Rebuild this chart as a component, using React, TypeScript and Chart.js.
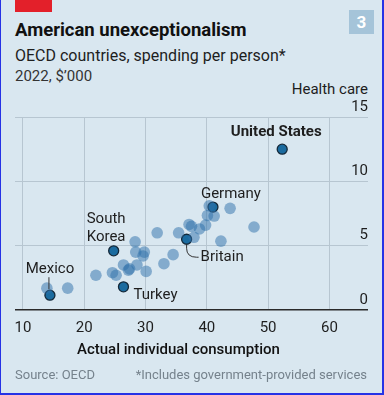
import React, { useEffect, useRef } from "react";
import { Chart, registerables } from "chart.js";

Chart.register(...registerables);

// ---- Data ----
const otherX = [13.9, 17.3, 21.9, 24.6, 25.2, 26.4, 27.2, 27.4, 28.6, 30.1, 28.4, 29.8, 29.6, 28.3, 33.0, 34.5, 31.9, 35.4, 37.1, 37.5, 37.9, 38.8, 39.8, 40.1, 41.2, 40.4, 43.8, 42.3, 47.7];
const otherY = [1.7, 1.7, 2.7, 2.9, 2.7, 3.5, 3.1, 3.2, 3.5, 3.0, 4.5, 4.5, 4.2, 5.3, 3.6, 4.3, 6.0, 6.0, 6.65, 6.5, 5.65, 6.3, 6.6, 7.35, 7.3, 8.1, 7.9, 5.35, 6.45];

const highlightNames = ["United States", "Germany", "Britain", "South Korea", "Turkey", "Mexico"];
const highlightX = [52.3, 41.0, 36.7, 24.8, 26.4, 14.4];
const highlightY = [12.5, 8.0, 5.5, 4.6, 1.8, 1.15];

const xTicks = [10, 20, 30, 40, 50, 60];
const yTicks = [0, 5, 10, 15];

// ---- Label styling (offsets in px from the point) ----
const labelStyle: Record<string, { lines: string[]; dx: number; dy: number; align: CanvasTextAlign; bold?: boolean; leader?: string }> = {
  "United States": { lines: ["United States"], dx: -6, dy: -17, align: "center", bold: true },
  Germany: { lines: ["Germany"], dx: -12, dy: -13, align: "left" },
  Britain: { lines: ["Britain"], dx: 14, dy: 18, align: "left", leader: "curve" },
  "South Korea": { lines: ["South", "Korea"], dx: -27, dy: -32, align: "left" },
  Turkey: { lines: ["Turkey"], dx: 10, dy: 8, align: "left" },
  Mexico: { lines: ["Mexico"], dx: 0, dy: -26, align: "center", leader: "vertical" },
};

const FONT = "Roboto, 'Liberation Sans', sans-serif";
const BG = "#d9e7f0";

const labelPlugin = {
  id: "pointLabels",
  afterDatasetsDraw(chart: any) {
    const { ctx, scales } = chart;
    ctx.save();
    highlightNames.forEach((name, i) => {
      const st = labelStyle[name];
      const px = scales.x.getPixelForValue(highlightX[i]);
      const py = scales.y.getPixelForValue(highlightY[i]);
      ctx.strokeStyle = "#333";
      ctx.lineWidth = 1;
      if (st.leader === "vertical") {
        ctx.beginPath();
        ctx.moveTo(px - 1, py - 18);
        ctx.lineTo(px - 1, py - 6);
        ctx.stroke();
      } else if (st.leader === "curve") {
        ctx.beginPath();
        ctx.moveTo(px, py + 5);
        ctx.lineTo(px, py + 9);
        ctx.quadraticCurveTo(px, py + 18, px + 10, py + 18);
        ctx.lineTo(px + 12, py + 18);
        ctx.stroke();
      }
      ctx.fillStyle = "#1e1e1e";
      ctx.font = `${st.bold ? "bold " : ""}15px ${FONT}`;
      ctx.textAlign = st.align;
      ctx.textBaseline = "middle";
      st.lines.forEach((line, j) => {
        ctx.fillText(line, px + st.dx, py + st.dy + j * 18);
      });
    });
    ctx.restore();
  },
};

export default function App() {
  const ref = useRef<HTMLCanvasElement>(null);

  useEffect(() => {
    if (!ref.current) return;
    const chart = new Chart(ref.current, {
      type: "scatter",
      data: {
        datasets: [
          {
            data: otherX.map((x, i) => ({ x, y: otherY[i] })),
            backgroundColor: "rgba(45,112,170,0.5)",
            borderWidth: 0,
            pointRadius: 5.8,
          },
          {
            data: highlightX.map((x, i) => ({ x, y: highlightY[i] })),
            backgroundColor: "#1b6b9f",
            borderColor: "#14293a",
            borderWidth: 1.3,
            pointRadius: 5,
          },
        ],
      },
      options: {
        animation: false,
        responsive: false,
        events: [],
        layout: { padding: { top: 37, left: 15, right: 16, bottom: 4 } },
        plugins: { legend: { display: false }, tooltip: { enabled: false } },
        scales: {
          x: {
            type: "linear",
            min: 8.7,
            max: 66.3,
            afterBuildTicks: (s: any) => {
              s.ticks = xTicks.map((v) => ({ value: v }));
            },
            grid: { color: "#b7c6d1", lineWidth: 1, drawTicks: false },
            border: { display: false },
            ticks: { color: "#1e1e1e", font: { family: FONT, size: 15 }, padding: 9 },
          },
          y: {
            type: "linear",
            position: "right",
            min: 0,
            max: 15,
            afterBuildTicks: (s: any) => {
              s.ticks = yTicks.map((v) => ({ value: v }));
            },
            grid: {
              color: (c: any) => (c.tick && c.tick.value === 0 ? "#2a2a2a" : "#b7c6d1"),
              lineWidth: (c: any) => (c.tick && c.tick.value === 0 ? 1.6 : 1),
              drawTicks: false,
            },
            border: { display: false },
            ticks: {
              mirror: true,
              padding: 0,
              labelOffset: -10,
              color: "#1e1e1e",
              font: { family: FONT, size: 15 },
            },
          },
        },
      },
      plugins: [labelPlugin],
    });
    return () => chart.destroy();
  }, []);

  const abs = (s: React.CSSProperties): React.CSSProperties => ({ position: "absolute", whiteSpace: "nowrap", ...s });

  return (
    <div
      style={{
        position: "absolute",
        left: 0,
        top: 0,
        width: 384,
        height: 395,
        boxSizing: "border-box",
        background: BG,
        borderLeft: "1px solid #2633e6",
        borderRight: "2px solid #2633e6",
        borderBottom: "2px solid #2633e6",
        fontFamily: FONT,
        overflow: "hidden",
      }}
    >
      <div style={abs({ left: 14, top: 0, width: 37, height: 12, background: "#e3202a" })} />
      <div
        style={abs({
          left: 348,
          top: 10,
          width: 25,
          height: 24,
          background: "#a5c4d9",
          color: "#fff",
          fontWeight: 700,
          fontSize: 17,
          lineHeight: "24px",
          textAlign: "center",
        })}
      >
        3
      </div>
      <div style={abs({ left: 14, top: 21, fontSize: 18.5, lineHeight: "18px", fontWeight: 700, color: "#111" })}>
        American unexceptionalism
      </div>
      <div style={abs({ left: 14, top: 48, fontSize: 16, lineHeight: "16px", color: "#1e1e1e" })}>
        OECD countries, spending per person*
      </div>
      <div style={abs({ left: 14, top: 69, fontSize: 15, lineHeight: "15px", color: "#333" })}>2022, $’000</div>
      <div style={abs({ right: 14, top: 82, fontSize: 15, lineHeight: "15px", color: "#1e1e1e" })}>Health care</div>
      <canvas ref={ref} width={384} height={270} style={{ position: "absolute", left: -1, top: 80, width: 384, height: 270 }} />
      <div style={abs({ left: 76, top: 342, fontSize: 15, lineHeight: "15px", fontWeight: 500, color: "#111" })}>
        Actual individual consumption
      </div>
      <div style={abs({ left: 14, top: 368, fontSize: 13, lineHeight: "13px", color: "#75828c" })}>Source: OECD</div>
      <div style={abs({ right: 15, top: 368, fontSize: 13, lineHeight: "13px", color: "#75828c" })}>
        *Includes government-provided services
      </div>
    </div>
  );
}
